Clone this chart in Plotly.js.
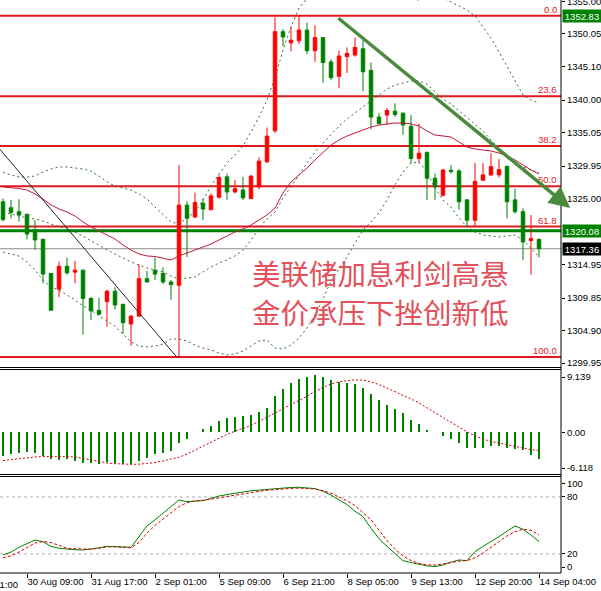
<!DOCTYPE html>
<html><head><meta charset="utf-8">
<script src="https://cdn.plot.ly/plotly-3.0.1.min.js"></script>
<style>html,body{margin:0;padding:0;background:#fff;overflow:hidden}</style>
</head><body>
<div id="chart" style="width:601px;height:591px"></div>
<script>
// ---- H4 gold candles (price) ----
const open = [1324.5,1323.6,1323.0,1322.6,1320.2,1318.8,1313.6,1311.2,1314.7,1313.8,
1314.1,1309.8,1308.0,1309.3,1310.9,1308.9,1305.9,1307.1,1312.8,1314.1,
1313.6,1312.3,1311.8,1324.0,1322.2,1324.3,1323.3,1325.2,1328.3,1326.0,
1326.3,1325.0,1326.8,1330.6,1335.3,1350.4,1348.7,1349.0,1350.65,1347.5,
1349.5,1345.8,1343.6,1346.6,1346.85,1347.8,1344.5,1337.4,1337.7,1338.3,
1338.0,1336.0,1331.1,1332.0,1328.1,1325.5,1329.3,1329.2,1324.8,1321.7,
1327.8,1328.6,1328.6,1329.9,1324.8,1323.0,1318.6,1318.8];
const high = [1325.0,1324.8,1324.9,1322.7,1321.7,1318.9,1313.7,1315.4,1316.0,1315.5,
1314.2,1310.0,1309.9,1311.1,1311.5,1308.9,1307.3,1315.0,1314.0,1316.0,
1314.5,1312.6,1330.1,1324.6,1325.9,1325.0,1325.8,1328.6,1328.8,1327.8,
1328.3,1328.6,1331.3,1335.8,1352.6,1350.8,1351.1,1352.83,1351.8,1351.4,
1349.5,1346.2,1347.5,1348.0,1349.5,1349.1,1345.7,1338.0,1338.8,1339.5,
1338.1,1337.7,1336.4,1332.2,1328.8,1329.5,1330.1,1329.5,1324.9,1330.4,
1330.4,1331.9,1331.0,1330.0,1326.5,1323.5,1322.5,1318.9];
const low = [1321.5,1322.0,1321.5,1318.8,1317.2,1312.1,1307.9,1310.0,1313.4,1312.1,
1304.3,1306.5,1307.3,1305.5,1308.1,1304.4,1302.6,1307.1,1312.2,1312.6,
1312.0,1309.6,1300.9,1316.1,1322.0,1321.7,1323.2,1325.0,1324.8,1325.8,
1324.8,1324.9,1326.4,1330.4,1335.0,1348.2,1347.4,1348.5,1347.0,1345.8,
1342.6,1343.0,1341.8,1344.1,1346.6,1341.3,1335.5,1336.3,1336.2,1337.4,
1334.7,1330.4,1330.4,1324.8,1324.8,1325.3,1328.8,1323.3,1320.7,1320.7,
1327.7,1328.4,1328.2,1322.0,1322.7,1315.6,1313.4,1316.05];
const close = [1321.8,1322.9,1322.5,1319.6,1318.7,1313.5,1308.0,1314.7,1313.7,1314.1,
1309.8,1307.9,1307.4,1310.9,1308.8,1306.1,1307.1,1312.8,1312.3,1313.5,
1312.3,1311.9,1324.0,1322.0,1324.4,1323.4,1325.4,1328.2,1326.0,1326.5,
1325.1,1328.4,1330.7,1334.5,1350.4,1349.6,1349.1,1350.65,1347.5,1349.5,
1345.7,1343.4,1346.7,1347.1,1348.0,1344.3,1337.4,1336.4,1338.4,1337.8,
1336.2,1331.1,1331.9,1328.1,1326.8,1329.35,1329.1,1324.5,1321.7,1327.6,
1328.6,1329.85,1329.4,1324.5,1323.0,1318.4,1318.9,1317.36];

// ---- Bollinger bands and moving average ----
const bbUpper = [1329.04,1328.58,1328.28,1328.28,1328.43,1329.04,1329.50,1329.80,1329.80,1329.65,
1329.50,1329.19,1328.43,1327.52,1326.91,1326.60,1326.30,1325.69,1324.93,1323.71,
1322.50,1321.43,1321.13,1322.04,1322.95,1324.78,1326.91,1328.74,1330.41,1331.63,
1333.00,1335.13,1337.41,1340.00,1343.35,1347.61,1351.11,1354.00,1355.52,1356.89,
1357.20,1357.20,1357.81,1358.11,1357.81,1357.66,1358.26,1358.72,1358.57,1357.50,
1356.13,1355.37,1355.22,1355.83,1355.83,1355.52,1354.92,1354.31,1353.70,1352.78,
1351.11,1349.44,1347.31,1345.17,1343.04,1340.76,1340.00,1339.54];
const bbMid = [1322.95,1322.65,1322.34,1322.04,1321.89,1321.58,1321.13,1320.67,1320.52,1319.91,
1319.30,1318.54,1317.93,1317.17,1316.56,1315.95,1315.34,1314.89,1314.43,1314.12,
1313.82,1313.21,1312.75,1312.91,1313.06,1313.82,1314.58,1315.19,1315.65,1316.26,
1317.17,1318.69,1320.52,1321.89,1322.95,1325.08,1326.76,1328.58,1330.41,1332.08,
1333.45,1334.82,1336.04,1337.11,1338.02,1338.93,1339.85,1340.76,1341.67,1342.28,
1342.59,1342.89,1342.89,1342.43,1341.22,1340.15,1339.39,1338.33,1337.26,1336.35,
1335.28,1333.91,1332.54,1331.32,1330.41,1329.80,1329.34,1328.89];
const bbLower = [1316.86,1316.56,1316.26,1315.34,1314.12,1312.60,1311.54,1311.08,1310.32,1309.56,
1308.65,1308.04,1307.13,1306.36,1305.60,1304.38,1303.17,1302.56,1302.41,1302.56,
1302.86,1303.62,1303.62,1303.32,1302.71,1302.25,1301.95,1301.49,1301.19,1301.34,
1301.80,1302.56,1303.32,1303.47,1302.25,1302.10,1302.71,1303.77,1305.30,1307.28,
1309.71,1312.45,1314.28,1316.10,1318.23,1320.21,1321.43,1322.80,1324.78,1327.06,
1329.04,1330.41,1330.56,1329.04,1326.60,1324.78,1323.71,1322.04,1320.67,1319.91,
1319.45,1319.30,1319.15,1319.30,1319.45,1318.69,1317.32,1316.10];
const maRed = [1326.76,1326.68,1326.53,1326.30,1325.69,1324.93,1324.02,1323.41,1322.95,1322.34,
1321.43,1320.67,1320.06,1319.45,1318.84,1317.93,1317.17,1316.56,1316.26,1316.18,
1315.95,1315.65,1316.26,1316.71,1317.17,1317.63,1318.08,1318.69,1319.30,1319.91,
1320.36,1320.97,1321.73,1322.50,1323.56,1325.84,1327.52,1328.58,1329.65,1330.87,
1332.08,1333.15,1333.91,1334.52,1334.98,1335.43,1335.89,1336.19,1336.35,1336.50,
1336.50,1336.35,1336.04,1335.28,1334.67,1334.52,1334.37,1333.61,1332.85,1332.54,
1332.39,1332.24,1331.93,1331.48,1330.87,1330.11,1329.34,1328.74];

// ---- MACD ----
const macdHist = [-3.47,-3.2,-2.98,-2.88,-3.08,-3.47,-3.96,-4.06,-3.96,-4.2,
-4.45,-4.55,-4.69,-4.35,-4.45,-4.69,-4.69,-4.2,-3.71,-3.23,
-3.08,-2.74,-1.61,-0.93,0.05,0.44,0.93,1.61,2.05,2.3,
2.39,2.49,2.98,3.52,5.33,6.4,7.18,7.87,8.16,8.36,
8.11,7.67,7.38,7.28,7.04,6.55,5.57,4.69,3.96,3.37,
2.79,1.81,1.17,0.34,0.1,-0.54,-1.03,-1.52,-2.25,-2.25,
-2.25,-2.0,-2.0,-2.25,-2.49,-2.59,-3.37,-3.86];
const macdSignal = [-4.15,-4.0,-3.85,-3.72,-3.62,-3.57,-3.55,-3.55,-3.57,-3.62,
-3.85,-4.1,-4.35,-4.5,-4.6,-4.69,-4.7,-4.68,-4.6,-4.45,
-4.2,-3.95,-3.65,-3.2,-2.6,-2.1,-1.5,-0.9,-0.3,0.15,
0.6,1.0,1.6,2.2,2.8,3.4,4.0,4.6,5.3,6.0,
6.6,7.1,7.4,7.6,7.7,7.65,7.4,7.0,6.5,5.9,
5.4,4.9,4.3,3.6,2.9,2.2,1.5,0.7,0.05,-0.5,
-1.0,-1.35,-1.6,-1.85,-2.1,-2.3,-2.55,-2.65];

// ---- Stochastic ----
const stochMain = [19,22,27,31,34.7,33,28,26,25,24.5,
24.2,25,26.5,28,28,27.5,27,38,49.5,56,
62.8,70,76.8,75,75.5,76.1,78.5,81,82.5,84,
85.5,86.5,87.2,88,88.7,89.5,90,90.2,89.5,88.8,
86,82,77,72,65,59.3,47,36,28,20,
13,11,9,7.5,6.7,8.5,11.5,13.7,13,22.5,
28,33,38.3,44,49.5,46,40,33];
const stochSignal = [16,18,22,27,31.5,33,32,29,26,25.5,
25,25,26,27.5,27.5,27,26.5,32,42,50,
57,64,70,74,76,76.5,77.5,79,80.5,82,
83.5,85,86,87,87.8,88.4,89,89.3,89.2,88.4,
86.5,84,80,76,71,64,56,45,34,25,
18,13,10,8.5,8.4,9.5,11,12.5,13,16,
21,27,33,39,43.5,46,45,40];

// ---- levels, ticks, labels ----
const fibHigh = 1352.83, fibLow = 1300.9;
const fibLevels = [0, 23.6, 38.2, 50, 61.8, 100];
const supportLine = 1320.08;
const lastPrice = 1317.36;
const priceTicks = [1355.00,1350.05,1345.10,1340.00,1335.05,1329.95,1325.00,1314.95,1309.85,1304.90,1299.95];
const macdTickVals = [8.11, 0, -5.24];
const macdTickText = ['9.139','0.00','-6.118'];
const stochTickVals = [93.7, 80, 20, 6.3];
const stochTickText = ['100','80','20','0'];
const stochLevels = [80, 20];
const xTickBars = [-5, 3, 11, 19, 27, 35, 43, 51, 59, 67];
const xTickLabels = ['29 Aug 01:00','30 Aug 09:00','31 Aug 17:00','2 Sep 01:00','5 Sep 09:00','6 Sep 21:00','8 Sep 05:00','9 Sep 13:00','12 Sep 20:00','14 Sep 04:00'];
const headline = ['美联储加息利剑高悬', '金价承压下挫创新低'];
const downTrend = {x0: 41.75, y0: 1352.63, x1: 70.9, y1: 1323.56};
const oldTrend = {x0: -0.4, y0: 1332.5, x1: 21.7, y1: 1300.9};

const bar = open.map((_, i) => i);
const xRange = [-0.375, 69.75];
const FONT = 'Liberation Sans, Arial, sans-serif';
const RED = '#e0191f', GREEN = '#008000';

const data = [
  {type:'candlestick', x:bar, open:open, high:high, low:low, close:close, xaxis:'x', yaxis:'y',
   increasing:{line:{color:'#ff0000', width:1}, fillcolor:'#ff0000'},
   decreasing:{line:{color:GREEN, width:1}, fillcolor:GREEN},
   whiskerwidth:0, hoverinfo:'skip'},
  {type:'scatter', mode:'lines', x:bar, y:bbUpper, line:{color:'#2f6f2f', width:1, dash:'2px,3px'}},
  {type:'scatter', mode:'lines', x:bar, y:bbMid, line:{color:'#2f6f2f', width:1, dash:'2px,3px'}},
  {type:'scatter', mode:'lines', x:bar, y:bbLower, line:{color:'#2f6f2f', width:1, dash:'2px,3px'}},
  {type:'scatter', mode:'lines', x:bar, y:maRed, line:{color:'#c4173a', width:1}},
  {type:'bar', x:bar, y:macdHist, yaxis:'y2', marker:{color:GREEN}, width:0.2},
  {type:'scatter', mode:'lines', x:bar, y:macdSignal, yaxis:'y2', line:{color:'#d00000', width:1, dash:'2px,2px'}},
  {type:'scatter', mode:'lines', x:bar, y:stochMain, yaxis:'y3', line:{color:GREEN, width:1}},
  {type:'scatter', mode:'lines', x:bar, y:stochSignal, yaxis:'y3', line:{color:'#e00000', width:1, dash:'3px,2px'}}
];

const H = 573; // plot height in px
const py = p => (H - p) / H;
const shapes = [];
fibLevels.forEach(l => {
  const v = fibHigh - (fibHigh - fibLow) * l / 100;
  shapes.push({type:'line', xref:'paper', x0:0, x1:1, yref:'y', y0:v, y1:v, line:{color:RED, width:2}, layer:'below'});
});
shapes.push({type:'line', xref:'paper', x0:0, x1:1, yref:'y', y0:supportLine, y1:supportLine, line:{color:GREEN, width:3}, layer:'below'});
shapes.push({type:'line', xref:'paper', x0:0, x1:1, yref:'y', y0:lastPrice, y1:lastPrice, line:{color:'#8c8c8c', width:1}, layer:'below'});
shapes.push({type:'line', xref:'x', yref:'y', x0:oldTrend.x0, y0:oldTrend.y0, x1:oldTrend.x1, y1:oldTrend.y1, line:{color:'#222', width:1}});
stochLevels.forEach(v => shapes.push({type:'line', xref:'paper', x0:0, x1:1, yref:'y3', y0:v, y1:v, line:{color:'#b0b0b0', width:1, dash:'3px,3px'}, layer:'below'}));
[367.5, 369.5, 474.5, 476.5].forEach(p => shapes.push({type:'line', xref:'paper', x0:0, x1:1, yref:'paper', y0:py(p), y1:py(p), line:{color:'#000', width:1}}));
shapes.push({type:'line', xref:'paper', x0:1, x1:1, yref:'paper', y0:0, y1:1, line:{color:'#000', width:1}});
shapes.push({type:'line', xref:'paper', x0:0, x1:1, yref:'paper', y0:0, y1:0, line:{color:'#000', width:1}});

const annotations = [];
fibLevels.forEach(l => {
  const v = fibHigh - (fibHigh - fibLow) * l / 100;
  annotations.push({xref:'paper', x:0.995, xanchor:'right', yref:'y', y:v, yanchor:'bottom', text:l.toFixed(1),
    showarrow:false, borderpad:0, font:{family:FONT, size:9.5, color:RED}});
});
[[fibHigh, GREEN], [supportLine, GREEN], [lastPrice, '#000']].forEach(([v, c]) => {
  annotations.push({xref:'paper', x:1, xanchor:'left', xshift:1, yref:'y', y:v, yanchor:'middle', text:v.toFixed(2),
    showarrow:false, bgcolor:c, width:38, height:12, borderpad:0, font:{family:FONT, size:9.5, color:'#fff'}});
});
headline.forEach((t, i) => {
  annotations.push({xref:'paper', x:250/561, xanchor:'left', yref:'y', y:[1313.82, 1307.88][i], yanchor:'middle', text:t,
    showarrow:false, font:{family:'Noto Sans CJK SC', size:28.5, color:'#e4505a'}});
});
annotations.push({xref:'paper', x:(xTickBars[0] - xRange[0]) / (xRange[1] - xRange[0]), xanchor:'left', xshift:-2,
  yref:'paper', y:0, yanchor:'top', yshift:-5, text:xTickLabels[0], showarrow:false, borderpad:0,
  font:{family:FONT, size:9.5, color:'#000'}});
annotations.push({xref:'x', yref:'y', x:downTrend.x1, y:downTrend.y1, axref:'x', ayref:'y', ax:downTrend.x0, ay:downTrend.y0,
  text:'', showarrow:true, arrowhead:2, arrowsize:1.2, arrowwidth:3.5, arrowcolor:'#4a8a3c', standoff:0});

const tickFont = {family:FONT, size:9.5, color:'#000'};
const yCommon = {side:'right', anchor:'x', showgrid:false, zeroline:false, showline:false, ticks:'outside', ticklen:3,
  tickcolor:'#000', tickmode:'array', tickfont:tickFont, ticklabeloverflow:'allow', fixedrange:true};

const layout = {
  width:601, height:591, margin:{l:0, r:40, t:0, b:18},
  paper_bgcolor:'#fff', plot_bgcolor:'#fff', showlegend:false, boxgap:0.375, bargap:0,
  xaxis:{domain:[0,1], anchor:'y3', range:xRange, showgrid:false, zeroline:false, showline:false,
    tickmode:'array', tickvals:xTickBars.slice(1), ticktext:xTickLabels.slice(1), ticks:'outside', ticklen:4,
    tickangle:0, automargin:false,
    tickcolor:'#000', ticklabelposition:'outside right', ticklabeloverflow:'allow', tickfont:tickFont,
    rangeslider:{visible:false}, fixedrange:true},
  yaxis:Object.assign({}, yCommon, {domain:[py(367), 1], range:[1299.36, 1355.22],
    tickvals:priceTicks, ticktext:priceTicks.map(v => v.toFixed(2))}),
  yaxis2:Object.assign({}, yCommon, {domain:[py(474), py(370)], range:[-6.118, 9.139],
    tickvals:macdTickVals, ticktext:macdTickText}),
  yaxis3:Object.assign({}, yCommon, {domain:[0, py(477)], range:[0, 101],
    tickvals:stochTickVals, ticktext:stochTickText}),
  shapes:shapes, annotations:annotations
};

Plotly.newPlot('chart', data, layout, {staticPlot:true, displayModeBar:false});
</script>
</body></html>
